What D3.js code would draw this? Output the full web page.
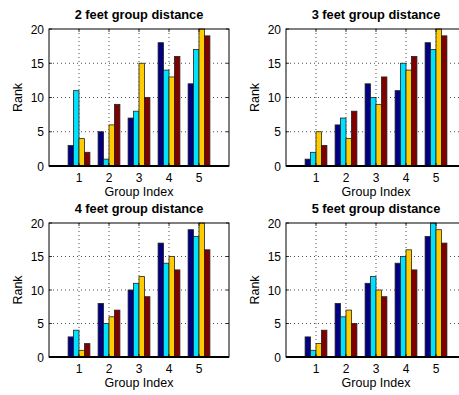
<!DOCTYPE html>
<html>
<head>
<meta charset="utf-8">
<script src="https://cdn.jsdelivr.net/npm/d3@7/dist/d3.min.js"></script>
<style>
body { margin: 0; background: #fff; }
text { font-family: "Liberation Sans", Arial, sans-serif; fill: #000; }
.grid line { stroke: #000; stroke-width: 0.7; stroke-dasharray: 1,3; }
</style>
</head>
<body>
<svg width="459" height="395"></svg>
<script>
// one array per panel, rows = group 1..5, columns = the four series
var groups = [1, 2, 3, 4, 5];
var titles = ["2 feet group distance", "3 feet group distance", "4 feet group distance", "5 feet group distance"];
var dist2 = [[3, 11, 4, 2], [5, 1, 6, 9], [7, 8, 15, 10], [18, 14, 13, 16], [12, 17, 20, 19]];
var dist3 = [[1, 2, 5, 3], [6, 7, 4, 8], [12, 10, 9, 13], [11, 15, 14, 16], [18, 17, 20, 19]];
var dist4 = [[3, 4, 1, 2], [8, 5, 6, 7], [10, 11, 12, 9], [17, 14, 15, 13], [19, 18, 20, 16]];
var dist5 = [[3, 1, 2, 4], [8, 6, 7, 5], [11, 12, 10, 9], [14, 15, 16, 13], [18, 20, 19, 17]];
var yTicks = [0, 5, 10, 15, 20];
var colors = ["#000080", "#00e0ff", "#ffcc00", "#800000"];

var svg = d3.select("svg");
var panels = [
    {data: dist2, left: 49, top: 29, bottom: 166},
    {data: dist3, left: 286, top: 29, bottom: 166},
    {data: dist4, left: 49, top: 223, bottom: 357},
    {data: dist5, left: 286, top: 223, bottom: 357}
];
var w = 180, tick = 3;

panels.forEach(function (p, k) {
    var h = p.bottom - p.top;
    var g = svg.append("g").attr("transform", "translate(" + p.left + "," + p.top + ")");
    var x = d3.scaleLinear().domain([0, 6]).range([0, w]);
    var y = d3.scaleLinear().domain([0, 20]).range([h, 0]);
    var gw = 4 / 5.5;
    var sub = d3.scaleBand().domain(d3.range(4)).range([-gw / 2, gw / 2]);

    // dotted grid
    var grid = g.append("g").attr("class", "grid");
    grid.selectAll(".gx").data(groups).enter().append("line")
        .attr("x1", function (d) { return x(d); }).attr("x2", function (d) { return x(d); })
        .attr("y1", 0).attr("y2", h);
    grid.selectAll(".gy").data(yTicks.slice(1, 4)).enter().append("line")
        .attr("x1", 0).attr("x2", w)
        .attr("y1", function (d) { return y(d); }).attr("y2", function (d) { return y(d); });

    // bars
    var grp = g.selectAll(".grp").data(p.data).enter().append("g")
        .attr("transform", function (d, i) { return "translate(" + x(groups[i]) + ",0)"; });
    grp.selectAll("rect").data(function (d) { return d; }).enter().append("rect")
        .attr("x", function (d, j) { return x(sub(j)) - x(0); })
        .attr("width", x(sub.bandwidth()) - x(0))
        .attr("y", function (d) { return y(d); })
        .attr("height", function (d) { return y(0) - y(d); })
        .attr("fill", function (d, j) { return colors[j]; })
        .attr("stroke", "#222")
        .attr("stroke-width", 0.8);

    // box and inward ticks
    g.append("rect").attr("width", w).attr("height", h)
        .attr("fill", "none").attr("stroke", "#000").attr("stroke-width", 1);
    g.append("line").attr("x1", 0).attr("x2", w).attr("y1", h).attr("y2", h)
        .attr("stroke", "#000").attr("stroke-width", 2);
    var tk = g.append("g").attr("stroke", "#000").attr("stroke-width", 0.8);
    groups.forEach(function (d) {
        tk.append("line").attr("x1", x(d)).attr("x2", x(d)).attr("y1", h).attr("y2", h - tick);
        tk.append("line").attr("x1", x(d)).attr("x2", x(d)).attr("y1", 0).attr("y2", tick);
    });
    yTicks.forEach(function (d) {
        tk.append("line").attr("x1", 0).attr("x2", tick).attr("y1", y(d)).attr("y2", y(d));
        tk.append("line").attr("x1", w).attr("x2", w - tick).attr("y1", y(d)).attr("y2", y(d));
    });

    // tick labels
    g.selectAll(".xl").data(groups).enter().append("text")
        .attr("x", function (d) { return x(d); }).attr("y", h + 16)
        .attr("text-anchor", "middle").style("font-size", "12px").text(function (d) { return d; });
    g.selectAll(".yl").data(yTicks).enter().append("text")
        .attr("x", -5).attr("y", function (d) { return y(d) + 4.5; })
        .attr("text-anchor", "end").style("font-size", "12px").text(function (d) { return d; });

    g.append("text").attr("x", w / 2).attr("y", h + 30)
        .attr("text-anchor", "middle").style("font-size", "12.5px").text("Group Index");
    g.append("text").attr("transform", "translate(-27," + (h / 2) + ") rotate(-90)")
        .attr("text-anchor", "middle").style("font-size", "12.5px").text("Rank");
    g.append("text").attr("x", w / 2).attr("y", -10)
        .attr("text-anchor", "middle").style("font-size", "12.8px").style("font-weight", "bold")
        .text(titles[k]);
});
</script>
</body>
</html>
